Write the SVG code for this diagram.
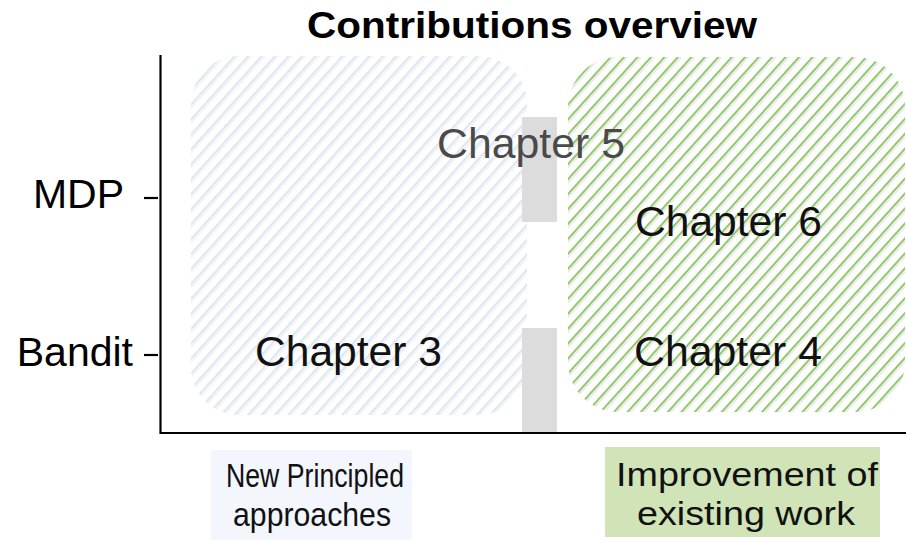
<svg xmlns="http://www.w3.org/2000/svg" width="906" height="543" viewBox="0 0 906 543">
<style>
text{font-family:"Liberation Sans",Arial,sans-serif;}
.title{font-size:36px;font-weight:bold;fill:#000;}
.axis{font-size:41px;fill:#000;}
.ch{font-size:43px;fill:#111;}
.lab{font-size:33px;fill:#111;}
.ax{stroke:#000;stroke-width:2.2;fill:none;}
.bar{fill:#dcdcdc;}
</style>
<defs>
<pattern id="hBlue" patternUnits="userSpaceOnUse" width="10" height="10" patternTransform="rotate(42)">
<rect width="10" height="10" fill="#fff"/>
<line x1="2" y1="0" x2="2" y2="10" stroke="#dce7f6" stroke-width="2"/>
<line x1="4.2" y1="0" x2="4.2" y2="10" stroke="#e6e6e6" stroke-width="0.9"/>
</pattern>
<pattern id="hGreen" patternUnits="userSpaceOnUse" width="10" height="10" patternTransform="rotate(42)">
<rect width="10" height="10" fill="#fff"/>
<line x1="2" y1="0" x2="2" y2="10" stroke="#93c96b" stroke-width="2"/>
<line x1="4.2" y1="0" x2="4.2" y2="10" stroke="#d6d6d6" stroke-width="0.9"/>
</pattern>
</defs>
<rect width="906" height="543" fill="#fff"/>
<text class="title" x="532" y="38" text-anchor="middle" textLength="450" lengthAdjust="spacingAndGlyphs">Contributions overview</text>

<g id="region-new">
<rect x="191" y="56" width="336" height="359" rx="48" fill="url(#hBlue)"/>
</g>
<g id="region-improve">
<rect x="568" y="57" width="337" height="355" rx="50" fill="url(#hGreen)"/>
</g>

<g id="bars">
<rect class="bar" x="522" y="117" width="35" height="105"/>
<rect class="bar" x="522" y="328" width="35" height="105"/>
</g>

<g id="axes">
<path class="ax" d="M160.5 55 V433 H906"/>
<line class="ax" x1="144" y1="198" x2="158" y2="198"/>
<line class="ax" x1="144" y1="355" x2="158" y2="355"/>
<text class="axis" x="124" y="208" text-anchor="end">MDP</text>
<text class="axis" x="133" y="366" text-anchor="end">Bandit</text>
</g>

<g id="chapter5"><text class="ch" x="437" y="158" textLength="188" lengthAdjust="spacingAndGlyphs" style="fill:#4a4a4a">Chapter 5</text></g>
<g id="chapter6"><text class="ch" x="635" y="236" textLength="187" lengthAdjust="spacingAndGlyphs">Chapter 6</text></g>
<g id="chapter3"><text class="ch" x="255" y="366" textLength="187" lengthAdjust="spacingAndGlyphs">Chapter 3</text></g>
<g id="chapter4"><text class="ch" x="634" y="366" textLength="188" lengthAdjust="spacingAndGlyphs">Chapter 4</text></g>

<g id="label-new">
<rect x="211" y="450" width="201" height="90" fill="#f3f6fd"/>
<text class="lab" x="226" y="487" textLength="178" lengthAdjust="spacingAndGlyphs">New Principled</text>
<text class="lab" x="233" y="526" textLength="158" lengthAdjust="spacingAndGlyphs">approaches</text>
</g>
<g id="label-improve">
<rect x="605" y="447" width="275" height="90" fill="#d0e4b8"/>
<text class="lab" x="616" y="486" textLength="262" lengthAdjust="spacingAndGlyphs">Improvement of</text>
<text class="lab" x="637" y="525" textLength="218" lengthAdjust="spacingAndGlyphs">existing work</text>
</g>
</svg>
